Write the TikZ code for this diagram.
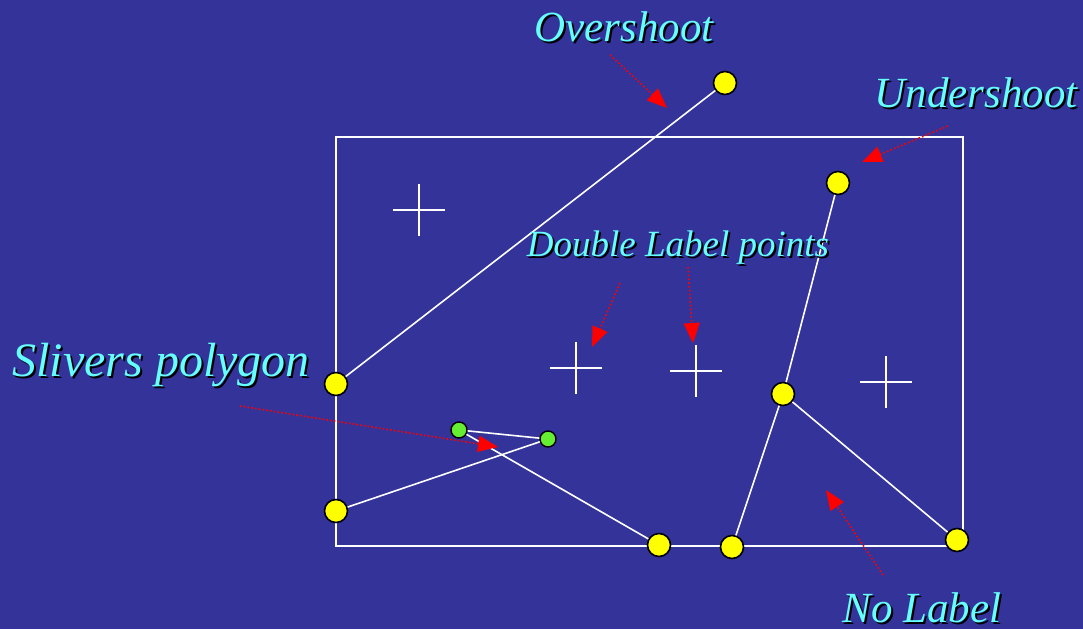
\documentclass[tikz,border=0pt]{standalone}
\usepackage{fontspec}
\setmainfont{Liberation Serif}
\usetikzlibrary{arrows.meta}
\definecolor{bg}{HTML}{333399}
\definecolor{lbl}{HTML}{66FFFF}
\definecolor{pt}{HTML}{FFFF00}
\definecolor{gpt}{HTML}{66EE33}
\tikzset{
  edge/.style={draw=white, line width=1.6pt},
  ypt/.style={circle, draw=black, fill=pt, line width=1.6pt, minimum size=23pt, inner sep=0pt},
  gptn/.style={circle, draw=black, fill=gpt, line width=1.4pt, minimum size=16pt, inner sep=0pt},
  redarr/.style={draw=red, line width=1.6pt, dash pattern=on 1.6pt off 2.2pt, -{Triangle[length=20pt,width=16pt,fill=red]}},
  lab/.style={font=\itshape, text=lbl, inner sep=0pt},
  shadowlab/.style={font=\itshape, text=black, inner sep=0pt},
  crossline/.style={draw=white, line width=1.4pt}
}
\newcommand{\shadowtext}[4]{%
  \node[shadowlab] at ([xshift=2pt,yshift=-2pt]#2) {\fontsize{#4}{#4}\selectfont #3};
  \node[lab] (#1) at (#2) {\fontsize{#4}{#4}\selectfont #3};
}
\begin{document}
\begin{tikzpicture}[x=1pt,y=-1pt]
\fill[bg] (0,0) rectangle (1083,629);
\useasboundingbox (0,0) rectangle (1083,629);
% frame
\draw[white, line width=1.5pt] (336,137) rectangle (963,546);
% crosses
\foreach \cx/\cy in {419/210, 576/368, 696/371, 886/382}{
  \draw[crossline] (\cx-26,\cy) -- (\cx+26,\cy);
  \draw[crossline] (\cx,\cy-26) -- (\cx,\cy+26);
}
% nodes
\node[ypt] (A) at (725,83) {};
\node[ypt] (B) at (336,384) {};
\node[ypt] (C) at (838,183) {};
\node[ypt] (D) at (783,394) {};
\node[ypt] (E) at (336,511) {};
\node[ypt] (F) at (659,545) {};
\node[ypt] (G) at (732,547) {};
\node[ypt] (H) at (957,540) {};
\node[gptn] (P) at (459,430) {};
\node[gptn] (Q) at (548,439) {};
% edges
\draw[edge] (A) -- (B);
\draw[edge] (C) -- (D);
\draw[edge] (D) -- (G);
\draw[edge] (D) -- (H);
\draw[edge] (E) -- (Q);
\draw[edge] (Q) -- (P);
\draw[edge] (P) -- (F);
% labels
\shadowtext{over}{624,27}{Overshoot}{43}
\shadowtext{under}{976,93}{Undershoot}{43}
\shadowtext{dbl}{678,248}{Double Label points}{37}
\shadowtext{sliv}{161,365}{Slivers polygon}{48}
\shadowtext{nol}{922,608}{No Label}{43}
% arrow coordinates
\coordinate (o1) at (610,55); \coordinate (o2) at (667,108);
\coordinate (u1) at (948,126); \coordinate (u2) at (862,162);
\coordinate (d1) at (620,283); \coordinate (d2) at (592,347);
\coordinate (e1) at (688,267); \coordinate (e2) at (693,343);
\coordinate (s1) at (240,406); \coordinate (s2) at (498,447);
\coordinate (n1) at (883,575); \coordinate (n2) at (826,490);
\draw[redarr] (o1) -- (o2);
\draw[redarr] (u1) -- (u2);
\draw[redarr] (d1) -- (d2);
\draw[redarr] (e1) -- (e2);
\draw[redarr] (s1) -- (s2);
\draw[redarr] (n1) -- (n2);
\end{tikzpicture}
\end{document}
